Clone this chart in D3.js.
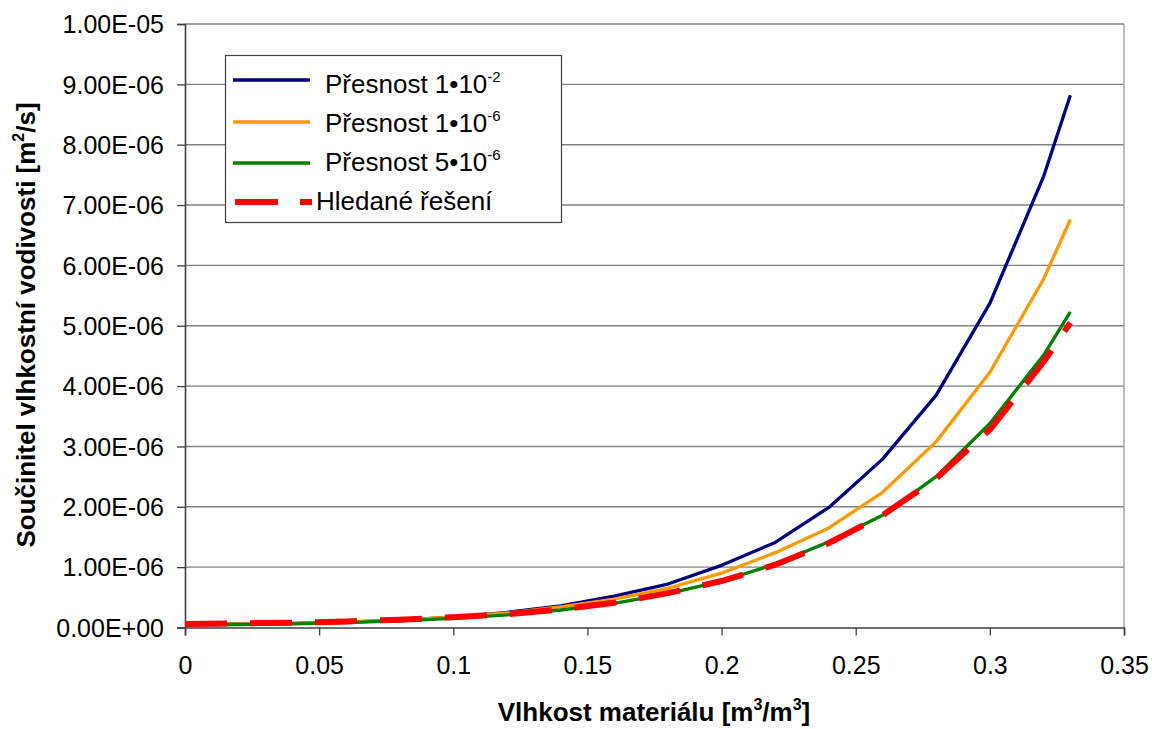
<html>
  <head>
    <meta charset="utf-8">
    <title>Součinitel vlhkostní vodivosti</title>
    <script src="https://cdnjs.cloudflare.com/ajax/libs/d3/7.8.5/d3.min.js" charset="utf-8"></script>
    <style>
      body { margin: 0; background: #fff; }
      text { font-family: "Liberation Sans", Arial, sans-serif; fill: #000; }
    </style>
  </head>
  <body>
    <svg class="chart"></svg>
    <script type="text/javascript">
      // vlhkost [m3/m3]
      var moisture = [0, 0.02, 0.04, 0.06, 0.08, 0.10, 0.12, 0.14, 0.16, 0.18, 0.20, 0.22, 0.24, 0.26, 0.28, 0.30, 0.32, 0.33];
      // values in 1e-6 m2/s
      var acc1e2 = [0.05, 0.06, 0.07, 0.09, 0.12, 0.17, 0.25, 0.36, 0.52, 0.72, 1.03, 1.41, 1.99, 2.79, 3.85, 5.37, 7.47, 8.82];
      var acc1e6 = [0.05, 0.06, 0.07, 0.09, 0.12, 0.17, 0.24, 0.34, 0.47, 0.65, 0.90, 1.24, 1.65, 2.24, 3.08, 4.23, 5.77, 6.76];
      var acc5e6 = [0.04, 0.05, 0.06, 0.08, 0.11, 0.15, 0.21, 0.29, 0.40, 0.56, 0.77, 1.05, 1.42, 1.86, 2.50, 3.38, 4.51, 5.23];
      var solution = [0.06, 0.07, 0.08, 0.10, 0.13, 0.17, 0.22, 0.30, 0.41, 0.57, 0.77, 1.04, 1.40, 1.86, 2.47, 3.28, 4.40, 5.05];

      var xTicks = [0, 0.05, 0.1, 0.15, 0.2, 0.25, 0.3, 0.35];
      var xTickLabels = ["0", "0.05", "0.1", "0.15", "0.2", "0.25", "0.3", "0.35"];
      var yTicks = [0, 1e-6, 2e-6, 3e-6, 4e-6, 5e-6, 6e-6, 7e-6, 8e-6, 9e-6, 1e-5];
      var yTickLabels = ["0.00E+00", "1.00E-06", "2.00E-06", "3.00E-06", "4.00E-06", "5.00E-06",
                         "6.00E-06", "7.00E-06", "8.00E-06", "9.00E-06", "1.00E-05"];

      var seriesNames = ["1\u202210", "1\u202210", "5\u202210", "Hledané řešení"];
      var seriesExp = ["-2", "-6", "-6", null];

      var series = [
        { vals: acc1e2, color: "#000080", width: 3.3, dash: null },
        { vals: acc1e6, color: "#ff9900", width: 3.3, dash: null },
        { vals: acc5e6, color: "#008000", width: 3.3, dash: null },
        { vals: solution, color: "#ff0000", width: 6, dash: "42,23" }
      ];

      var width = 1152, height = 729;
      var svg = d3.select(".chart").attr("width", width).attr("height", height);

      var x = d3.scaleLinear().domain([0, 0.35]).range([185, 1124]);
      var y = d3.scaleLinear().domain([0, 1e-5]).range([627.5, 24]);

      // gridlines
      svg.append("g").selectAll("line").data(yTicks.slice(1)).enter().append("line")
        .attr("x1", x(0)).attr("x2", x(0.35))
        .attr("y1", function(d){ return y(d); }).attr("y2", function(d){ return y(d); })
        .attr("stroke", "#808080").attr("stroke-width", 1.4);

      // right border of plot area
      svg.append("line").attr("x1", x(0.35)).attr("x2", x(0.35)).attr("y1", y(1e-5)).attr("y2", y(0))
        .attr("stroke", "#a0a0a0").attr("stroke-width", 1.4);

      var xAxis = d3.axisBottom(x).tickValues(xTicks).tickSize(8)
                    .tickFormat(function(d, i){ return xTickLabels[i]; });
      var yAxis = d3.axisLeft(y).tickValues(yTicks).tickSize(8)
                    .tickFormat(function(d, i){ return yTickLabels[i]; });

      var gx = svg.append("g").attr("transform", "translate(0," + y(0) + ")").call(xAxis);
      var gy = svg.append("g").attr("transform", "translate(" + x(0) + ",0)").call(yAxis);

      [gx, gy].forEach(function(g){
        g.select(".domain").attr("stroke", "#404040").attr("stroke-width", 1.6);
        g.selectAll(".tick line").attr("stroke", "#404040").attr("stroke-width", 1.3);
        g.selectAll(".tick text").attr("font-size", 25).attr("fill", "#000")
         .style("font-family", "'Liberation Sans', Arial, sans-serif");
      });
      gx.selectAll(".tick text").attr("y", 0).attr("dy", 0).attr("transform", "translate(0,46)");
      gy.selectAll(".tick text").attr("x", -21).attr("dy", "0.35em");

      // lines
      var line = d3.line()
        .x(function(d, i){ return x(moisture[i]); })
        .y(function(d){ return y(d * 1e-6); });

      series.forEach(function(s){
        svg.append("path").datum(s.vals)
          .attr("d", line)
          .attr("fill", "none")
          .attr("stroke", s.color)
          .attr("stroke-width", s.width)
          .attr("stroke-linejoin", "round")
          .attr("stroke-dasharray", s.dash);
      });

      // axis titles
      var xt = svg.append("text").attr("x", 654).attr("y", 721).attr("text-anchor", "middle")
        .attr("font-size", 26).attr("font-weight", "bold");
      xt.append("tspan").text("Vlhkost materiálu [m");
      xt.append("tspan").attr("font-size", 16).attr("dy", -11).text("3");
      xt.append("tspan").attr("dy", 11).text("/m");
      xt.append("tspan").attr("font-size", 16).attr("dy", -11).text("3");
      xt.append("tspan").attr("dy", 11).text("]");

      var yt = svg.append("text").attr("transform", "translate(35,325) rotate(-90)")
        .attr("text-anchor", "middle").attr("font-size", 26).attr("font-weight", "bold");
      yt.append("tspan").text("Součinitel vlhkostní vodivosti [m");
      yt.append("tspan").attr("font-size", 16).attr("dy", -11).text("2");
      yt.append("tspan").attr("dy", 11).text("/s]");

      // legend
      var legend = svg.append("g");
      legend.append("rect").attr("x", 225.5).attr("y", 55.5).attr("width", 336).attr("height", 167)
        .attr("fill", "#fff").attr("stroke", "#404040").attr("stroke-width", 1.2);

      var rowLine = [80, 122, 163, 202];
      var rowText = [93, 132, 171, 210];
      series.forEach(function(s, i){
        legend.append("line").attr("x1", 233).attr("x2", 310)
          .attr("y1", rowLine[i]).attr("y2", rowLine[i])
          .attr("stroke", s.color).attr("stroke-width", s.width)
          .attr("stroke-dasharray", s.dash ? "43,22" : null)
          .attr("transform", s.dash ? "translate(2,0)" : null);
        var t = legend.append("text").attr("y", rowText[i]).attr("font-size", 26);
        if (seriesExp[i]) {
          t.attr("x", 325);
          t.append("tspan").text("Přesnost " + seriesNames[i]);
          t.append("tspan").attr("font-size", 15).attr("dy", -11).text(seriesExp[i]);
        } else {
          t.attr("x", 316).text(seriesNames[i]);
        }
      });
    </script>
  </body>
</html>
